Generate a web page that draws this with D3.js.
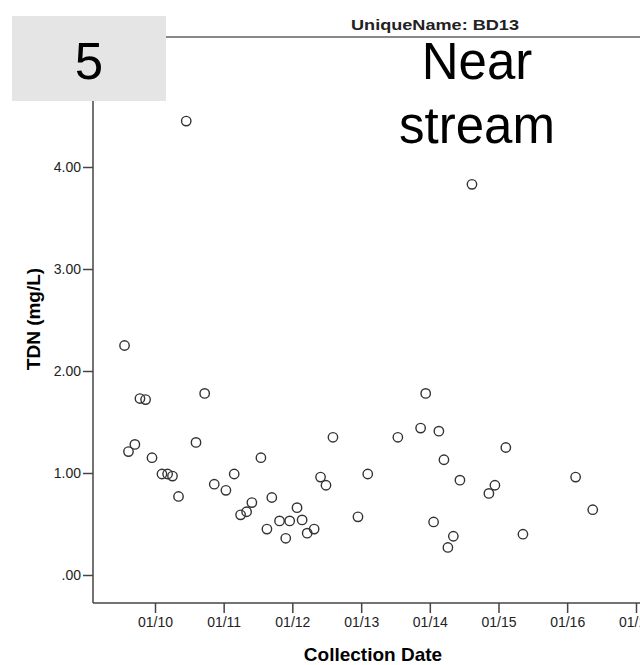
<!DOCTYPE html>
<html>
<head>
<meta charset="utf-8">
<script src="https://cdn.jsdelivr.net/npm/d3@7"></script>
<style>
  body { margin: 0; background: #fff; }
  text { font-family: "Liberation Sans", Arial, sans-serif; }
</style>
</head>
<body>
<svg width="640" height="665"></svg>
<script>
const width = 640;
const height = 665;

// collection dates and TDN values
const dates = [
  '2009-07-23', '2009-08-13', '2009-09-16', '2009-10-13', '2009-11-12', '2009-12-16',
  '2010-02-07', '2010-03-09', '2010-04-04', '2010-05-06', '2010-06-16', '2010-08-07',
  '2010-09-22', '2010-11-12', '2011-01-13', '2011-02-26', '2011-04-01', '2011-05-03',
  '2011-05-31', '2011-07-18', '2011-08-19', '2011-09-14', '2011-10-25', '2011-11-27',
  '2011-12-18', '2012-01-26', '2012-02-22', '2012-03-20', '2012-04-26', '2012-05-30',
  '2012-06-28', '2012-08-04', '2012-12-15', '2013-02-05', '2013-07-15', '2013-11-13',
  '2013-12-10', '2014-01-21', '2014-02-18', '2014-03-17', '2014-04-07', '2014-05-06',
  '2014-06-10', '2014-08-13', '2014-11-11', '2014-12-13', '2015-02-09', '2015-05-11',
  '2016-02-15', '2016-05-16'
];
const tdn = [
  2.25, 1.21, 1.28, 1.73, 1.72, 1.15,
  0.99, 0.99, 0.97, 0.77, 4.45, 1.30,
  1.78, 0.89, 0.83, 0.99, 0.59, 0.62,
  0.71, 1.15, 0.45, 0.76, 0.53, 0.36,
  0.53, 0.66, 0.54, 0.41, 0.45, 0.96,
  0.88, 1.35, 0.57, 0.99, 1.35, 1.44,
  1.78, 0.52, 1.41, 1.13, 0.27, 0.38,
  0.93, 3.83, 0.80, 0.88, 1.25, 0.40,
  0.96, 0.64
];
const yTicks = [0, 1, 2, 3, 4];
const yTickLabels = ['.00', '1.00', '2.00', '3.00', '4.00'];

const parse = d3.timeParse('%Y-%m-%d');
const points = dates.map((d, i) => ({date: parse(d), value: tdn[i]}));

const svg = d3.select('svg');

// scales anchored on tick positions, then stretched to the frame
const xScale = d3.scaleTime()
  .domain([new Date(2010, 0, 1), new Date(2017, 0, 1)])
  .range([155, 636]);
xScale.domain([xScale.invert(93), xScale.invert(700)]).range([93, 700]);

const yScale = d3.scaleLinear()
  .domain([0, 4])
  .range([575, 167]);
yScale.domain([yScale.invert(603), yScale.invert(37)]).range([603, 37]);

// frame top line
svg.append('line')
  .attr('x1', 93).attr('x2', width)
  .attr('y1', 37).attr('y2', 37)
  .attr('stroke', '#888').attr('stroke-width', 2);

// y axis
const yAxis = svg.append('g')
  .attr('transform', 'translate(93,0)')
  .call(d3.axisLeft(yScale)
    .tickValues(yTicks)
    .tickFormat((d, i) => yTickLabels[i])
    .tickSize(10)
    .tickPadding(2));
yAxis.select('.domain').remove();
yAxis.append('line')
  .attr('x1', 0).attr('x2', 0)
  .attr('y1', 37).attr('y2', 603)
  .attr('stroke', '#444').attr('stroke-width', 1.5);

// x axis
const xAxis = svg.append('g')
  .attr('transform', 'translate(0,603)')
  .call(d3.axisBottom(xScale)
    .ticks(d3.timeYear.every(1))
    .tickFormat(d3.timeFormat('%m/%y'))
    .tickSize(10)
    .tickPadding(4));
xAxis.select('.domain').remove();
xAxis.append('line')
  .attr('x1', 93).attr('x2', width)
  .attr('y1', 0).attr('y2', 0)
  .attr('stroke', '#444').attr('stroke-width', 1.5);

svg.selectAll('.tick line').attr('stroke', '#444').attr('stroke-width', 1.5);
svg.selectAll('.tick text')
  .attr('fill', '#222')
  .style('font-size', '14px');

// points
svg.append('g')
  .selectAll('circle')
  .data(points)
  .enter()
  .append('circle')
  .attr('cx', d => xScale(d.date))
  .attr('cy', d => yScale(d.value))
  .attr('r', 4.7)
  .attr('fill', 'none')
  .attr('stroke', '#333')
  .attr('stroke-width', 1.4);

// axis titles
svg.append('text')
  .attr('x', 373).attr('y', 661)
  .attr('text-anchor', 'middle')
  .style('font-size', '19px').style('font-weight', 'bold')
  .text('Collection Date');

svg.append('text')
  .attr('transform', 'translate(40,319) rotate(-90)')
  .attr('text-anchor', 'middle')
  .style('font-size', '19px').style('font-weight', 'bold')
  .text('TDN (mg/L)');

// panel title
svg.append('text')
  .attr('x', 435).attr('y', 30)
  .attr('text-anchor', 'middle')
  .attr('textLength', 168).attr('lengthAdjust', 'spacingAndGlyphs')
  .style('font-size', '15px').style('font-weight', 'bold')
  .attr('fill', '#222')
  .text('UniqueName: BD13');

// overlay labels
svg.append('rect')
  .attr('x', 12).attr('y', 16)
  .attr('width', 154).attr('height', 85)
  .attr('fill', '#e5e5e5');

svg.append('text')
  .attr('x', 89).attr('y', 79)
  .attr('text-anchor', 'middle')
  .style('font-size', '51px')
  .text('5');

svg.append('text')
  .attr('x', 477).attr('y', 79)
  .attr('text-anchor', 'middle')
  .style('font-size', '51px')
  .text('Near');

svg.append('text')
  .attr('x', 477).attr('y', 143)
  .attr('text-anchor', 'middle')
  .style('font-size', '51px')
  .text('stream');
</script>
</body>
</html>
